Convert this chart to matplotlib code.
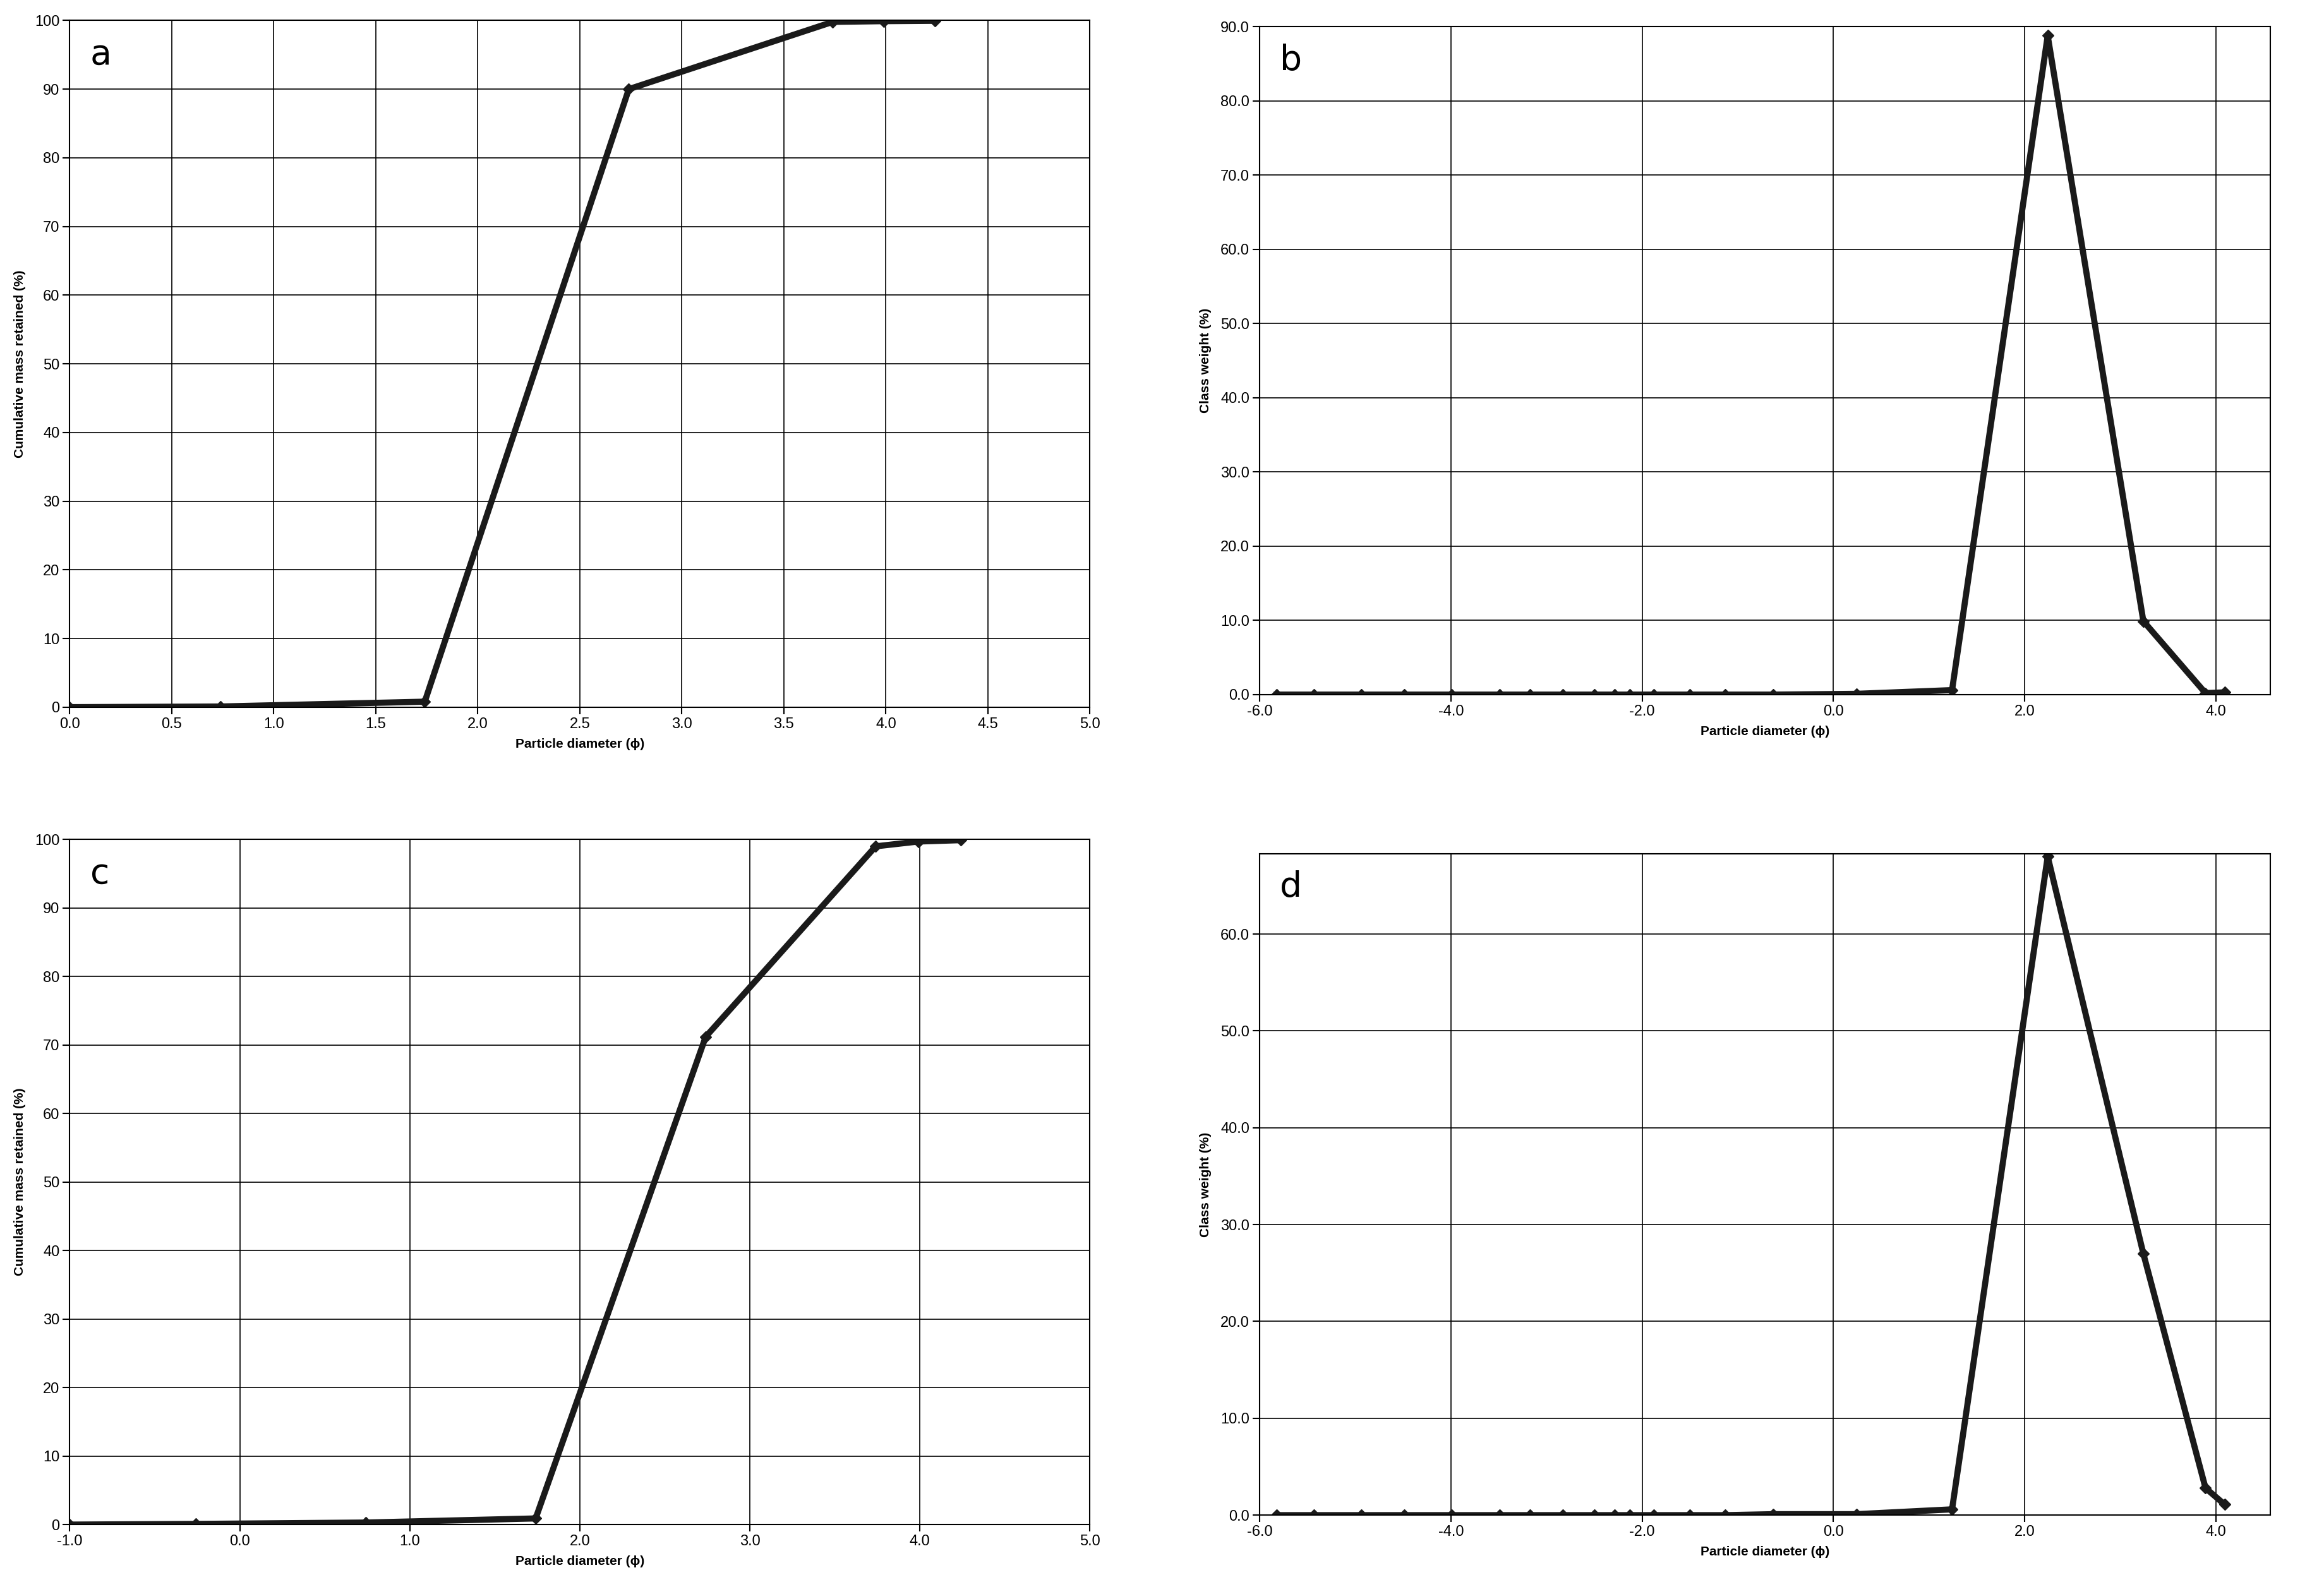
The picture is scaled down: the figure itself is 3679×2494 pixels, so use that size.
import numpy as np
import matplotlib.pyplot as plt

plt.rcParams['font.family'] = ['Liberation Sans', 'DejaVu Sans']

# data
phi_a = [0.0, 0.74, 1.74, 2.74, 3.74, 3.99, 4.24]
cum_a = [0.0, 0.1, 0.8, 90.0, 99.8, 99.9, 99.95]
phi_c = [-1.0, -0.26, 0.74, 1.74, 2.74, 3.74, 3.99, 4.24]
cum_c = [0.0, 0.1, 0.3, 0.9, 71.2, 99.0, 99.7, 99.9]
phi_bd = [-5.82, -5.43, -4.94, -4.49, -3.99, -3.49, -3.17, -2.83, -2.50, -2.29,
          -2.13, -1.88, -1.50, -1.13, -0.63, 0.24, 1.24, 2.24, 3.24, 3.89, 4.09]
w_b = [0]*15 + [0.1, 0.6, 88.8, 9.9, 0.2, 0.3]
w_d = [0]*14 + [0.1, 0.1, 0.6, 68.0, 27.0, 2.8, 1.1]

fig = plt.figure(figsize=(36.79, 24.94), dpi=100)
fig.patch.set_facecolor('white')

def setup(ax, letter, ylabel):
    ax.grid(True, color='black', linewidth=1.2)
    ax.set_axisbelow(True)
    for s in ax.spines.values():
        s.set_linewidth(1.5)
    ax.tick_params(labelsize=17, length=8, width=1.5)
    ax.set_xlabel('Particle diameter (ϕ)', fontsize=15, fontweight='bold', labelpad=8)
    ax.set_ylabel(ylabel, fontsize=15, fontweight='bold', labelpad=10)
    ax.text(0.02, 0.975, letter, transform=ax.transAxes, fontsize=40,
            va='top', ha='left', family='DejaVu Sans')

line = dict(color='#1a1a1a', linewidth=7, marker='D', markersize=9)

ax = fig.add_axes([0.030, 0.551, 0.439, 0.436])
ax.plot(phi_a, cum_a, **line)
ax.set_xlim(0, 5); ax.set_ylim(0, 100)
ax.set_xticks(np.arange(0, 5.01, 0.5)); ax.set_yticks(range(0, 101, 10))
ax.xaxis.set_major_formatter(plt.FormatStrFormatter('%.1f'))
setup(ax, 'a', 'Cumulative mass retained (%)')

ax = fig.add_axes([0.542, 0.559, 0.435, 0.424])
ax.plot(phi_bd, w_b, **line)
ax.set_xlim(-6, 4.57); ax.set_ylim(0, 90)
ax.set_xticks(range(-6, 5, 2)); ax.set_yticks(range(0, 91, 10))
ax.xaxis.set_major_formatter(plt.FormatStrFormatter('%.1f'))
ax.yaxis.set_major_formatter(plt.FormatStrFormatter('%.1f'))
setup(ax, 'b', 'Class weight (%)')

ax = fig.add_axes([0.030, 0.032, 0.439, 0.435])
ax.plot(phi_c, cum_c, **line)
ax.set_xlim(-1, 5); ax.set_ylim(0, 100)
ax.set_xticks(range(-1, 6)); ax.set_yticks(range(0, 101, 10))
ax.xaxis.set_major_formatter(plt.FormatStrFormatter('%.1f'))
setup(ax, 'c', 'Cumulative mass retained (%)')

ax = fig.add_axes([0.542, 0.038, 0.435, 0.420])
ax.plot(phi_bd, w_d, **line)
ax.set_xlim(-6, 4.57); ax.set_ylim(0, 68.3)
ax.set_xticks(range(-6, 5, 2)); ax.set_yticks(range(0, 61, 10))
ax.xaxis.set_major_formatter(plt.FormatStrFormatter('%.1f'))
ax.yaxis.set_major_formatter(plt.FormatStrFormatter('%.1f'))
setup(ax, 'd', 'Class weight (%)')

fig.savefig('out.png', dpi=100)
